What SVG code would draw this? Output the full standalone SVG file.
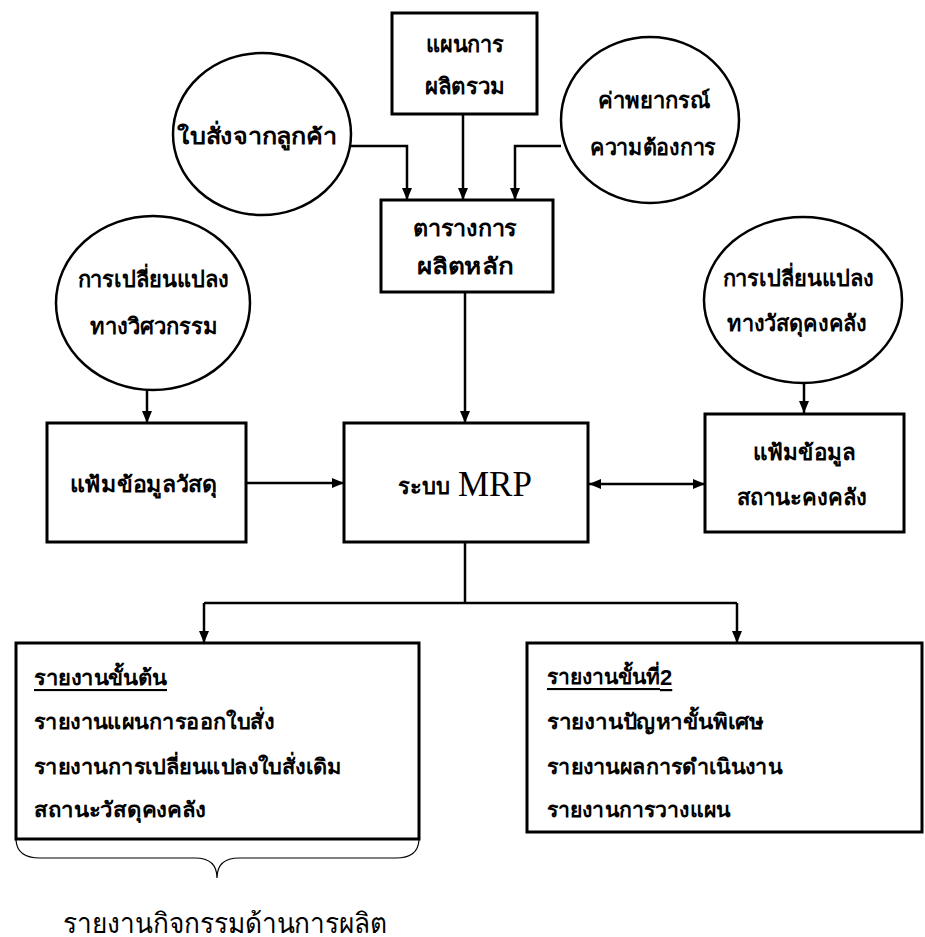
<svg xmlns="http://www.w3.org/2000/svg" width="925" height="937" viewBox="0 0 925 937">
<style>
.box{fill:#fff;stroke:#000;stroke-width:3}
.circ{fill:#fff;stroke:#000;stroke-width:2.5}
.t{font-family:"Liberation Serif","Noto Sans","DejaVu Sans",serif;font-weight:bold;font-size:22px;fill:#000;text-anchor:middle;dominant-baseline:central}
.tl{font-family:"Liberation Serif","Noto Sans","DejaVu Sans",serif;font-weight:bold;font-size:21px;fill:#000;dominant-baseline:central}
.c{fill:none;stroke:#000;stroke-width:2.5}
</style>
<defs>
<marker id="ah" viewBox="0 0 12 10" refX="12" refY="5" markerWidth="12" markerHeight="10" markerUnits="userSpaceOnUse" orient="auto-start-reverse">
<path d="M0,0 L12,5 L0,10 z" fill="#000"/>
</marker>
</defs>
<g id="connectors">
<path class="c" d="M351,146 H407 V200" marker-end="url(#ah)"/>
<path class="c" d="M463,114 V200" marker-end="url(#ah)"/>
<path class="c" d="M561,146 H515 V200" marker-end="url(#ah)"/>
<path class="c" d="M465,292 V423" marker-end="url(#ah)"/>
<path class="c" d="M147,390 V423" marker-end="url(#ah)"/>
<path class="c" d="M804,382 V413" marker-end="url(#ah)"/>
<path class="c" d="M246,483 H344" marker-end="url(#ah)"/>
<path class="c" d="M589,484 H705" marker-start="url(#ah)" marker-end="url(#ah)"/>
<path class="c" d="M465,542 V603"/>
<path class="c" d="M204,603 H737"/>
<path class="c" d="M204,603 V643" marker-end="url(#ah)"/>
<path class="c" d="M737,603 V643" marker-end="url(#ah)"/>
</g>
<g id="n-plan">
<rect class="box" x="392" y="13" width="145" height="101"/>
<text class="t" x="465" y="44" textLength="78" lengthAdjust="spacingAndGlyphs">แผนการ</text>
<text class="t" x="465" y="86" textLength="80" lengthAdjust="spacingAndGlyphs">ผลิตรวม</text>
</g>
<g id="n-order">
<ellipse class="circ" cx="262" cy="134" rx="89" ry="81"/>
<text class="t" x="257" y="136" textLength="160" lengthAdjust="spacingAndGlyphs">ใบสั่งจากลูกค้า</text>
</g>
<g id="n-forecast">
<ellipse class="circ" cx="650" cy="120" rx="89" ry="83"/>
<text class="t" x="654" y="100" textLength="112" lengthAdjust="spacingAndGlyphs">ค่าพยากรณ์</text>
<text class="t" x="653" y="147" textLength="126" lengthAdjust="spacingAndGlyphs">ความต้องการ</text>
</g>
<g id="n-mps">
<rect class="box" x="381" y="200" width="172" height="92"/>
<text class="t" x="465" y="228" textLength="104" lengthAdjust="spacingAndGlyphs">ตารางการ</text>
<text class="t" x="465" y="266" textLength="96" lengthAdjust="spacingAndGlyphs">ผลิตหลัก</text>
</g>
<g id="n-eng">
<ellipse class="circ" cx="153" cy="303" rx="97" ry="87"/>
<text class="t" x="153" y="279" textLength="151" lengthAdjust="spacingAndGlyphs">การเปลี่ยนแปลง</text>
<text class="t" x="154" y="326" textLength="128" lengthAdjust="spacingAndGlyphs">ทางวิศวกรรม</text>
</g>
<g id="n-invchange">
<ellipse class="circ" cx="803" cy="300" rx="99" ry="83"/>
<text class="t" x="798" y="278" textLength="151" lengthAdjust="spacingAndGlyphs">การเปลี่ยนแปลง</text>
<text class="t" x="797" y="323" textLength="140" lengthAdjust="spacingAndGlyphs">ทางวัสดุคงคลัง</text>
</g>
<g id="n-bom">
<rect class="box" x="47" y="423" width="199" height="119"/>
<text class="t" x="143" y="484" textLength="147" lengthAdjust="spacingAndGlyphs">แฟ้มข้อมูลวัสดุ</text>
</g>
<g id="n-mrp">
<rect class="box" x="344" y="423" width="244" height="119"/>
<text class="tl" x="398" y="486" style="font-size:22px">ระบบ</text>
<text x="458" y="484" style="font-family:'Liberation Serif',serif;font-size:35px;fill:#000;dominant-baseline:central">MRP</text>
</g>
<g id="n-inv">
<rect class="box" x="705" y="414" width="199" height="118"/>
<text class="t" x="804" y="452" textLength="103" lengthAdjust="spacingAndGlyphs">แฟ้มข้อมูล</text>
<text class="t" x="802" y="497" textLength="130" lengthAdjust="spacingAndGlyphs">สถานะคงคลัง</text>
</g>
<g id="n-primary">
<rect class="box" x="16" y="643" width="403" height="196"/>
<text class="tl" x="34" y="678" text-decoration="underline" textLength="133" lengthAdjust="spacingAndGlyphs">รายงานขั้นต้น</text>
<text class="tl" x="34" y="722" textLength="240" lengthAdjust="spacingAndGlyphs">รายงานแผนการออกใบสั่ง</text>
<text class="tl" x="34" y="767" textLength="308" lengthAdjust="spacingAndGlyphs">รายงานการเปลี่ยนแปลงใบสั่งเดิม</text>
<text class="tl" x="34" y="810" textLength="172" lengthAdjust="spacingAndGlyphs">สถานะวัสดุคงคลัง</text>
</g>
<g id="n-secondary">
<rect class="box" x="527" y="643" width="395" height="189"/>
<text class="tl" x="547" y="677" text-decoration="underline">รายงานขั้นที่<tspan style="font-family:'Liberation Sans',sans-serif;font-size:22px">2</tspan></text>
<text class="tl" x="547" y="722" textLength="217" lengthAdjust="spacingAndGlyphs">รายงานปัญหาขั้นพิเศษ</text>
<text class="tl" x="547" y="767" textLength="235" lengthAdjust="spacingAndGlyphs">รายงานผลการดำเนินงาน</text>
<text class="tl" x="547" y="810" textLength="183" lengthAdjust="spacingAndGlyphs">รายงานการวางแผน</text>
</g>
<g id="brace">
<path d="M16,840 Q17,858 40,858 H195 Q217,858 217,878 Q217,858 239,858 H396 Q418,858 419,840" fill="none" stroke="#000" stroke-width="1.2"/>
<text x="63" y="923" textLength="324" lengthAdjust="spacingAndGlyphs" style="font-family:'Liberation Serif','Noto Sans','DejaVu Sans',serif;font-size:28px;fill:#000;dominant-baseline:central">รายงานกิจกรรมด้านการผลิต</text>
</g>
</svg>
